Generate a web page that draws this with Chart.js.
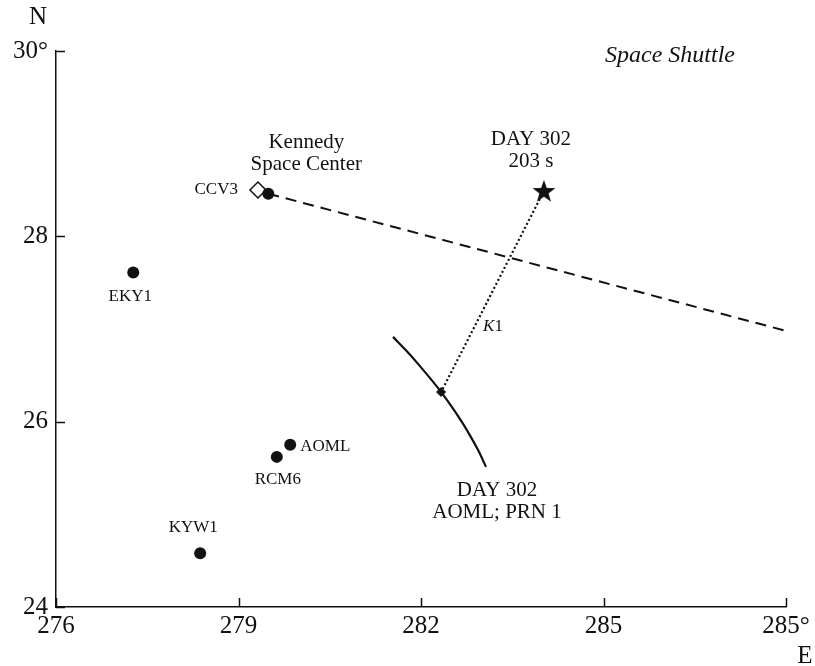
<!DOCTYPE html>
<html>
<head>
<meta charset="utf-8">
<script src="https://cdn.jsdelivr.net/npm/chart.js@4.4.1/dist/chart.umd.min.js"></script>
<style>
  html, body { margin: 0; padding: 0; background: #fff; }
  canvas { display: block; }
</style>
</head>
<body>
<canvas id="myMap" width="815" height="666"></canvas>
<script>
// Estaciones (longitud E, latitud N)
const stationNames = ['EKY1', 'KYW1', 'RCM6', 'AOML', 'KSC'];
const stationLon = [277.27, 278.37, 279.63, 279.85, 279.49];
const stationLat = [27.61, 24.58, 25.62, 25.75, 28.46];

// CCV3 (rombo blanco)
const ccv3Lon = [279.32];
const ccv3Lat = [28.50];

// Posicion del transbordador (estrella)
const shuttleLon = [284.02];
const shuttleLat = [28.49];

// Trayectoria (linea discontinua)
const trackLon = [279.49, 288.0];
const trackLat = [28.46, 26.98];

// Linea K1 (punteada): estrella -> punto de corte
const k1Lon = [284.02, 282.33];
const k1Lat = [28.49, 26.32];

// Curva AOML; PRN 1
const curveLon = [281.54, 281.745, 281.951, 282.329, 282.541, 282.752, 282.936, 283.069];
const curveLat = [26.915, 26.775, 26.624, 26.322, 26.127, 25.912, 25.696, 25.512];

// Etiquetas de los ejes
const xTickValues = [276, 279, 282, 285, 288];
const xTickLabels = ['276', '279', '282', '285', '285°'];
const yTickValues = [24, 26, 28, 30];
const yTickLabels = ['24', '26', '28', '30°'];

const FONT = '"Liberation Serif", "DejaVu Serif", serif';
const INK = '#111';

function pts(lons, lats) {
  return lons.map((x, i) => ({ x: x, y: lats[i] }));
}

// Estrella rellena para el pointStyle
function makeStar(r) {
  const c = document.createElement('canvas');
  c.width = c.height = Math.ceil(r * 2 + 2);
  const g = c.getContext('2d');
  const cx = c.width / 2, cy = c.height / 2 + 1;
  g.beginPath();
  for (let i = 0; i < 10; i++) {
    const rad = i % 2 === 0 ? r : r * 0.4;
    const a = -Math.PI / 2 + i * Math.PI / 5;
    g.lineTo(cx + rad * Math.cos(a), cy + rad * Math.sin(a));
  }
  g.closePath();
  g.fillStyle = INK;
  g.fill();
  return c;
}

// Textos anotados (anclados a los datos)
const lastC = curveLon.length - 1;
const notes = [
  { text: 'Kennedy', ax: stationLon[4], ay: stationLat[4], dx: 38, dy: -51, size: 21, align: 'center' },
  { text: 'Space Center', ax: stationLon[4], ay: stationLat[4], dx: 38, dy: -29, size: 21, align: 'center' },
  { text: 'CCV3', ax: ccv3Lon[0], ay: ccv3Lat[0], dx: -20, dy: 0, size: 17, align: 'right' },
  { text: 'DAY 302', ax: shuttleLon[0], ay: shuttleLat[0], dx: -13, dy: -51, size: 21, align: 'center' },
  { text: '203 s', ax: shuttleLon[0], ay: shuttleLat[0], dx: -13, dy: -29, size: 21, align: 'center' },
  { text: 'EKY1', ax: stationLon[0], ay: stationLat[0], dx: -3, dy: 24, size: 17, align: 'center' },
  { text: 'KYW1', ax: stationLon[1], ay: stationLat[1], dx: -7, dy: -26, size: 17, align: 'center' },
  { text: 'RCM6', ax: stationLon[2], ay: stationLat[2], dx: 1, dy: 23, size: 17, align: 'center' },
  { text: 'AOML', ax: stationLon[3], ay: stationLat[3], dx: 10, dy: 2, size: 17, align: 'left' },
  { text: 'DAY 302', ax: curveLon[lastC], ay: curveLat[lastC], dx: 11, dy: 24, size: 21, align: 'center' },
  { text: 'AOML; PRN 1', ax: curveLon[lastC], ay: curveLat[lastC], dx: 11, dy: 46, size: 21, align: 'center' }
];

const mapDecor = {
  id: 'mapDecor',
  afterDraw(chart) {
    const ctx = chart.ctx;
    const a = chart.chartArea;
    const xs = chart.scales.x, ys = chart.scales.y;
    ctx.save();
    // marcas hacia dentro
    ctx.strokeStyle = INK;
    ctx.lineWidth = 1.5;
    ctx.beginPath();
    xTickValues.forEach(v => {
      const px = Math.round(xs.getPixelForValue(v)) + 0.5;
      ctx.moveTo(px, a.bottom);
      ctx.lineTo(px, a.bottom - 9);
    });
    yTickValues.forEach(v => {
      const py = Math.round(ys.getPixelForValue(v)) + 0.5;
      ctx.moveTo(a.left, py);
      ctx.lineTo(a.left + 9, py);
    });
    ctx.stroke();

    ctx.fillStyle = INK;
    ctx.textBaseline = 'middle';
    // letras de los ejes
    ctx.font = '25px ' + FONT;
    ctx.textAlign = 'center';
    ctx.fillText('N', a.left - 18, a.top - 34);
    ctx.fillText('E', a.right + 19, a.bottom + 49);
    // titulo
    ctx.font = 'italic 24px ' + FONT;
    ctx.fillText('Space Shuttle', a.right - 116, a.top + 5);

    notes.forEach(n => {
      ctx.font = n.size + 'px ' + FONT;
      ctx.textAlign = n.align;
      ctx.fillText(n.text, xs.getPixelForValue(n.ax) + n.dx, ys.getPixelForValue(n.ay) + n.dy);
    });

    // K1 (K en cursiva)
    const kx = xs.getPixelForValue(k1Lon[1]) + 42;
    const ky = ys.getPixelForValue(k1Lat[1]) - 65;
    ctx.textAlign = 'left';
    ctx.font = 'italic 17px ' + FONT;
    ctx.fillText('K', kx, ky);
    const kw = ctx.measureText('K').width;
    ctx.font = '17px ' + FONT;
    ctx.fillText('1', kx + kw, ky);
    ctx.restore();
  }
};

const noPoint = { pointRadius: 0, pointHoverRadius: 0 };

const myChart = {
  type: 'scatter',
  data: {
    datasets: [
      { // estaciones
        data: pts(stationLon, stationLat),
        pointStyle: 'circle', pointRadius: 6, backgroundColor: INK, borderColor: INK, borderWidth: 0,
        order: 1
      },
      { // CCV3
        data: pts(ccv3Lon, ccv3Lat),
        pointStyle: 'rectRot', pointRadius: 8, backgroundColor: '#fff', borderColor: INK, borderWidth: 1.5,
        order: 2
      },
      { // estrella
        data: pts(shuttleLon, shuttleLat),
        pointStyle: makeStar(12), pointRadius: 12,
        order: 1
      },
      { // punto de corte
        data: pts([k1Lon[1]], [k1Lat[1]]),
        pointStyle: 'rectRot', pointRadius: 4.5, backgroundColor: INK, borderColor: INK, borderWidth: 1,
        order: 1
      },
      { // trayectoria
        data: pts(trackLon, trackLat), showLine: true,
        borderColor: INK, borderWidth: 2, borderDash: [11, 7], ...noPoint,
        order: 5
      },
      { // K1
        data: pts(k1Lon, k1Lat), showLine: true,
        borderColor: INK, borderWidth: 2.2, borderDash: [2, 2.5], ...noPoint,
        order: 5
      },
      { // curva
        data: pts(curveLon, curveLat), showLine: true, cubicInterpolationMode: 'monotone',
        borderColor: INK, borderWidth: 2.2, ...noPoint,
        order: 5
      }
    ]
  },
  options: {
    responsive: false,
    animation: false,
    layout: { padding: { top: 51, right: 29, left: 0, bottom: 0 } },
    plugins: { legend: { display: false }, tooltip: { enabled: false } },
    scales: {
      x: {
        type: 'linear', min: 276, max: 288,
        afterBuildTicks: s => { s.ticks = xTickValues.map(v => ({ value: v })); },
        afterFit: s => { s.height = 59; },
        grid: { display: false, drawTicks: false },
        border: { display: true, color: INK, width: 1.5 },
        ticks: {
          padding: 4, color: INK, maxRotation: 0, autoSkip: false,
          font: { family: FONT, size: 25 },
          callback: v => xTickLabels[xTickValues.indexOf(v)]
        }
      },
      y: {
        type: 'linear', min: 24, max: 30,
        afterBuildTicks: s => { s.ticks = yTickValues.map(v => ({ value: v })); },
        afterFit: s => { s.width = 56; },
        grid: { display: false, drawTicks: false },
        border: { display: true, color: INK, width: 1.5 },
        ticks: {
          padding: 8, color: INK, autoSkip: false,
          font: { family: FONT, size: 25 },
          callback: v => yTickLabels[yTickValues.indexOf(v)]
        }
      }
    }
  },
  plugins: [mapDecor]
};

const myMap = document.getElementById('myMap');
window.mapChart = new Chart(myMap, myChart);
</script>
</body>
</html>
